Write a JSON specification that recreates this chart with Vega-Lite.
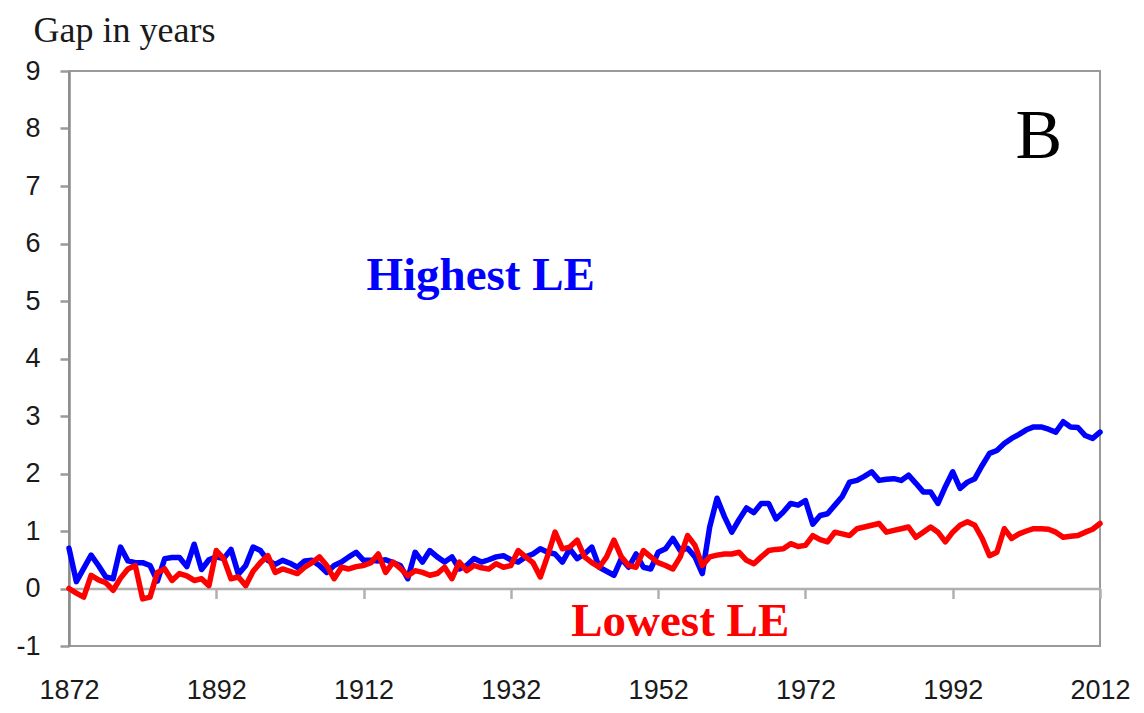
{
  "$schema": "https://vega.github.io/schema/vega-lite/v6.json",
  "width": 1031,
  "height": 575,
  "autosize": "none",
  "padding": {"left": 69, "top": 71, "right": 44, "bottom": 67},
  "background": "white",
  "config": {
    "view": {"stroke": "#9a9a9a", "strokeWidth": 2},
    "axis": {"grid": false, "labelFont": "Liberation Sans", "labelFontSize": 27, "labelColor": "#1a1a1a"}
  },
  "datasets": {
    "gap": [
      {"year":1872,"high":0.70,"low":0.00},{"year":1873,"high":0.12,"low":-0.08},{"year":1874,"high":0.35,"low":-0.15},{"year":1875,"high":0.58,"low":0.23},{"year":1876,"high":0.40,"low":0.15},{"year":1877,"high":0.20,"low":0.10},{"year":1878,"high":0.17,"low":-0.03},{"year":1879,"high":0.72,"low":0.18},{"year":1880,"high":0.48,"low":0.34},{"year":1881,"high":0.45,"low":0.40},
      {"year":1882,"high":0.45,"low":-0.18},{"year":1883,"high":0.40,"low":-0.15},{"year":1884,"high":0.13,"low":0.28},{"year":1885,"high":0.52,"low":0.34},{"year":1886,"high":0.54,"low":0.14},{"year":1887,"high":0.54,"low":0.26},{"year":1888,"high":0.38,"low":0.22},{"year":1889,"high":0.77,"low":0.14},{"year":1890,"high":0.33,"low":0.17},{"year":1891,"high":0.50,"low":0.05},
      {"year":1892,"high":0.55,"low":0.66},{"year":1893,"high":0.52,"low":0.52},{"year":1894,"high":0.68,"low":0.17},{"year":1895,"high":0.25,"low":0.20},{"year":1896,"high":0.40,"low":0.05},{"year":1897,"high":0.72,"low":0.30},{"year":1898,"high":0.66,"low":0.45},{"year":1899,"high":0.49,"low":0.57},{"year":1900,"high":0.42,"low":0.28},{"year":1901,"high":0.49,"low":0.34},
      {"year":1902,"high":0.44,"low":0.30},{"year":1903,"high":0.37,"low":0.26},{"year":1904,"high":0.48,"low":0.37},{"year":1905,"high":0.49,"low":0.45},{"year":1906,"high":0.40,"low":0.55},{"year":1907,"high":0.28,"low":0.40},{"year":1908,"high":0.40,"low":0.17},{"year":1909,"high":0.46,"low":0.37},{"year":1910,"high":0.55,"low":0.34},{"year":1911,"high":0.63,"low":0.38},
      {"year":1912,"high":0.49,"low":0.40},{"year":1913,"high":0.49,"low":0.45},{"year":1914,"high":0.48,"low":0.60},{"year":1915,"high":0.50,"low":0.28},{"year":1916,"high":0.45,"low":0.46},{"year":1917,"high":0.40,"low":0.35},{"year":1918,"high":0.17,"low":0.22},{"year":1919,"high":0.63,"low":0.31},{"year":1920,"high":0.46,"low":0.28},{"year":1921,"high":0.66,"low":0.23},
      {"year":1922,"high":0.55,"low":0.26},{"year":1923,"high":0.46,"low":0.37},{"year":1924,"high":0.55,"low":0.17},{"year":1925,"high":0.34,"low":0.46},{"year":1926,"high":0.40,"low":0.31},{"year":1927,"high":0.52,"low":0.40},{"year":1928,"high":0.46,"low":0.36},{"year":1929,"high":0.50,"low":0.34},{"year":1930,"high":0.55,"low":0.43},{"year":1931,"high":0.57,"low":0.37},
      {"year":1932,"high":0.50,"low":0.40},{"year":1933,"high":0.46,"low":0.66},{"year":1934,"high":0.55,"low":0.55},{"year":1935,"high":0.60,"low":0.45},{"year":1936,"high":0.69,"low":0.20},{"year":1937,"high":0.63,"low":0.57},{"year":1938,"high":0.60,"low":0.98},{"year":1939,"high":0.46,"low":0.69},{"year":1940,"high":0.69,"low":0.72},{"year":1941,"high":0.52,"low":0.84},
      {"year":1942,"high":0.60,"low":0.55},{"year":1943,"high":0.72,"low":0.45},{"year":1944,"high":0.37,"low":0.37},{"year":1945,"high":0.30,"low":0.55},{"year":1946,"high":0.23,"low":0.84},{"year":1947,"high":0.52,"low":0.55},{"year":1948,"high":0.37,"low":0.40},{"year":1949,"high":0.60,"low":0.37},{"year":1950,"high":0.37,"low":0.66},{"year":1951,"high":0.34,"low":0.55},
      {"year":1952,"high":0.63,"low":0.45},{"year":1953,"high":0.69,"low":0.40},{"year":1954,"high":0.87,"low":0.34},{"year":1955,"high":0.66,"low":0.55},{"year":1956,"high":0.70,"low":0.92},{"year":1957,"high":0.55,"low":0.75},{"year":1958,"high":0.26,"low":0.40},{"year":1959,"high":1.07,"low":0.55},{"year":1960,"high":1.57,"low":0.58},{"year":1961,"high":1.25,"low":0.60},
      {"year":1962,"high":0.98,"low":0.60},{"year":1963,"high":1.20,"low":0.63},{"year":1964,"high":1.40,"low":0.49},{"year":1965,"high":1.32,"low":0.43},{"year":1966,"high":1.48,"low":0.55},{"year":1967,"high":1.48,"low":0.66},{"year":1968,"high":1.21,"low":0.68},{"year":1969,"high":1.33,"low":0.69},{"year":1970,"high":1.48,"low":0.78},{"year":1971,"high":1.45,"low":0.73},
      {"year":1972,"high":1.53,"low":0.75},{"year":1973,"high":1.12,"low":0.92},{"year":1974,"high":1.27,"low":0.85},{"year":1975,"high":1.30,"low":0.81},{"year":1976,"high":1.45,"low":0.98},{"year":1977,"high":1.60,"low":0.95},{"year":1978,"high":1.85,"low":0.92},{"year":1979,"high":1.88,"low":1.04},{"year":1980,"high":1.95,"low":1.07},{"year":1981,"high":2.03,"low":1.10},
      {"year":1982,"high":1.88,"low":1.13},{"year":1983,"high":1.90,"low":0.98},{"year":1984,"high":1.91,"low":1.01},{"year":1985,"high":1.88,"low":1.04},{"year":1986,"high":1.97,"low":1.07},{"year":1987,"high":1.83,"low":0.89},{"year":1988,"high":1.68,"low":0.98},{"year":1989,"high":1.68,"low":1.07},{"year":1990,"high":1.48,"low":0.98},{"year":1991,"high":1.77,"low":0.81},
      {"year":1992,"high":2.03,"low":0.98},{"year":1993,"high":1.74,"low":1.10},{"year":1994,"high":1.85,"low":1.16},{"year":1995,"high":1.91,"low":1.10},{"year":1996,"high":2.14,"low":0.87},{"year":1997,"high":2.35,"low":0.57},{"year":1998,"high":2.40,"low":0.63},{"year":1999,"high":2.52,"low":1.04},{"year":2000,"high":2.61,"low":0.87},{"year":2001,"high":2.68,"low":0.95},
      {"year":2002,"high":2.76,"low":1.00},{"year":2003,"high":2.81,"low":1.04},{"year":2004,"high":2.81,"low":1.04},{"year":2005,"high":2.77,"low":1.03},{"year":2006,"high":2.72,"low":0.98},{"year":2007,"high":2.90,"low":0.89},{"year":2008,"high":2.81,"low":0.91},{"year":2009,"high":2.80,"low":0.92},{"year":2010,"high":2.66,"low":0.98},{"year":2011,"high":2.61,"low":1.03},
      {"year":2012,"high":2.72,"low":1.13}
    ]
  },
  "layer": [
    {
      "data": {"name": "gap"},
      "mark": {"type": "line", "color": "#0000ff", "strokeWidth": 5.5, "strokeJoin": "round", "strokeCap": "round"},
      "encoding": {
        "x": {"field": "year", "type": "quantitative",
              "scale": {"domain": [1872, 2012], "nice": false, "zero": false},
              "axis": {"values": [1872, 1892, 1912, 1932, 1952, 1972, 1992, 2012], "format": "d", "title": null,
                       "offset": -57.5, "domainColor": "#b0b0b0", "domainWidth": 2.5,
                       "tickColor": "#b0b0b0", "tickWidth": 2.5, "tickSize": 10, "labelPadding": 79,
                       "labelFlush": false, "labelOverlap": false}},
        "y": {"field": "high", "type": "quantitative",
              "scale": {"domain": [-1, 9], "nice": false, "zero": false},
              "axis": {"values": [-1, 0, 1, 2, 3, 4, 5, 6, 7, 8, 9], "labelExpr": "'' + datum.value", "title": "Gap in years",
                       "titleAngle": 0, "titleAlign": "left", "titleBaseline": "alphabetic",
                       "titleX": -36, "titleY": -30, "titleFont": "Liberation Serif", "titleFontSize": 36,
                       "titleFontWeight": "normal", "titleColor": "#1a1a1a",
                       "domainColor": "#8c8c8c", "domainWidth": 2.5, "tickColor": "#9a9a9a", "tickWidth": 2.5,
                       "tickSize": 9, "labelPadding": 20, "labelFlush": false, "labelOverlap": false}}
      }
    },
    {
      "data": {"name": "gap"},
      "mark": {"type": "line", "color": "#ff0000", "strokeWidth": 5.5, "strokeJoin": "round", "strokeCap": "round"},
      "encoding": {
        "x": {"field": "year", "type": "quantitative"},
        "y": {"field": "low", "type": "quantitative"}
      }
    },
    {
      "data": {"values": [{"year": 1927.9, "value": 5.19, "label": "Highest LE"}]},
      "mark": {"type": "text", "font": "Liberation Serif", "fontSize": 47, "fontWeight": "bold", "color": "#0000ff", "align": "center", "baseline": "alphabetic"},
      "encoding": {
        "x": {"field": "year", "type": "quantitative"},
        "y": {"field": "value", "type": "quantitative"},
        "text": {"field": "label"}
      }
    },
    {
      "data": {"values": [{"year": 1955.0, "value": -0.83, "label": "Lowest LE"}]},
      "mark": {"type": "text", "font": "Liberation Serif", "fontSize": 47, "fontWeight": "bold", "color": "#ff0000", "align": "center", "baseline": "alphabetic"},
      "encoding": {
        "x": {"field": "year", "type": "quantitative"},
        "y": {"field": "value", "type": "quantitative"},
        "text": {"field": "label"}
      }
    },
    {
      "data": {"values": [{"year": 2003.7, "value": 7.49, "label": "B"}]},
      "mark": {"type": "text", "font": "Liberation Serif", "fontSize": 70, "fontWeight": "normal", "color": "#000000", "align": "center", "baseline": "alphabetic"},
      "encoding": {
        "x": {"field": "year", "type": "quantitative"},
        "y": {"field": "value", "type": "quantitative"},
        "text": {"field": "label"}
      }
    }
  ]
}
